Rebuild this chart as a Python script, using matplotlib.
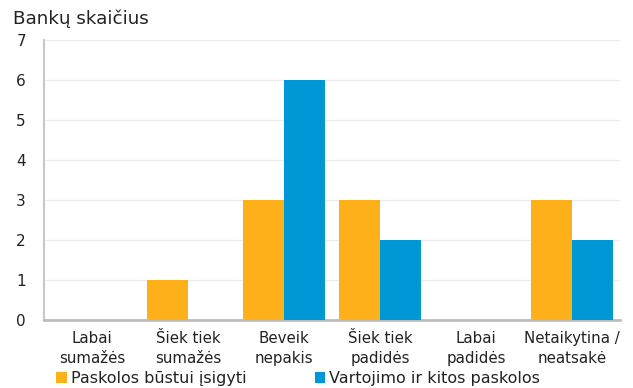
import matplotlib.pyplot as plt
import numpy as np

categories = ['Labai\nsumažės', 'Šiek tiek\nsumažės', 'Beveik\nnepakis',
              'Šiek tiek\npadidės', 'Labai\npadidės', 'Netaikytina /\nneatsakė']
busto = [0, 1, 3, 3, 0, 3]
vartojimo = [0, 0, 6, 2, 0, 2]
series_names = ['Paskolos būstui įsigyti', 'Vartojimo ir kitos paskolos']

plt.rcParams['font.family'] = 'DejaVu Sans'
fig = plt.figure(figsize=(6.33, 3.88), dpi=100)
ax = fig.add_axes([0.0695, 0.175, 0.91, 0.722])

x = np.arange(len(categories))
w = 0.43
ax.bar(x - w/2, busto, w, color='#FDB019', label=series_names[0], zorder=3)
ax.bar(x + w/2, vartojimo, w, color='#0097D6', label=series_names[1], zorder=3)

ax.set_xlim(-0.5, len(categories) - 0.5)
ax.set_ylim(0, 7)
ax.set_yticks(range(8))
ax.set_xticks(x)
ax.set_xticklabels(categories, fontsize=10.8, linespacing=1.4, color='#222222')
ax.tick_params(axis='y', labelsize=11, length=0, pad=13, labelcolor='#222222')
ax.tick_params(axis='x', length=0, pad=8)
ax.grid(axis='y', color='#ececec', linewidth=1, zorder=0)
for s in ['top', 'right']:
    ax.spines[s].set_visible(False)
ax.spines['left'].set_color('#c8c8c8')
ax.spines['left'].set_linewidth(1.5)
ax.spines['bottom'].set_color('#bdbdbd')
ax.spines['bottom'].set_linewidth(2)

fig.text(0.021, 0.937, 'Bankų skaičius', fontsize=13.2, color='#222222')

ax.legend(loc='lower left', bbox_to_anchor=(0.01, -0.258), ncol=2, frameon=False,
          fontsize=11.5, handlelength=0.65, handleheight=0.65, handletextpad=0.25,
          columnspacing=4.3, borderaxespad=0, labelcolor='#222222')

fig.savefig('out.png', dpi=100)
